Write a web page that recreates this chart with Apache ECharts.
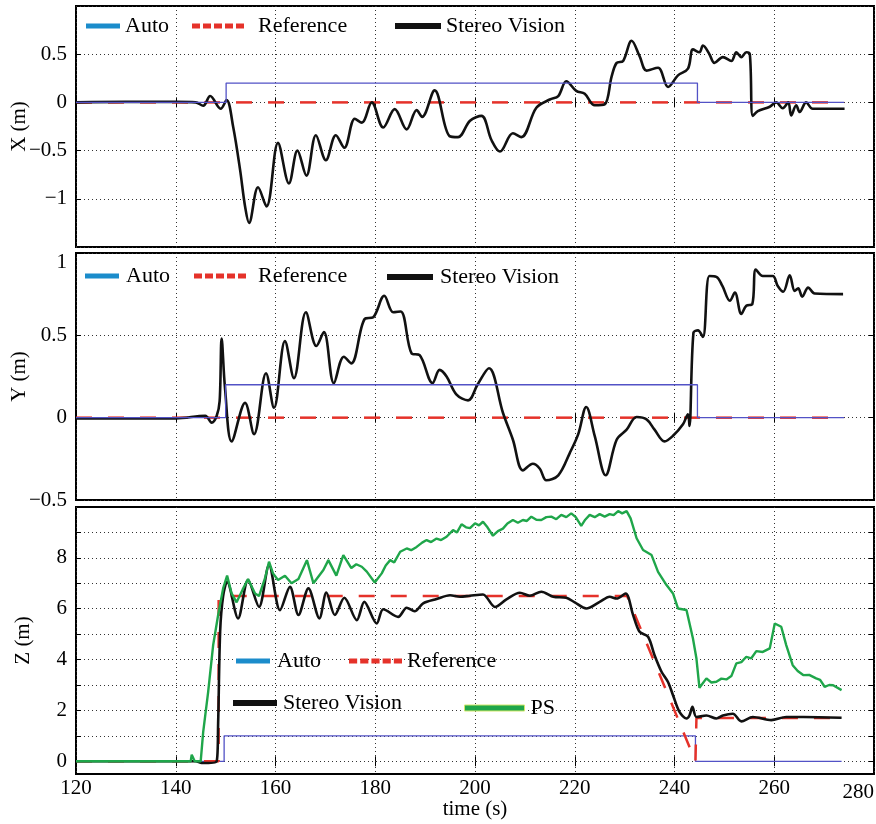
<!DOCTYPE html>
<html>
<head>
<meta charset="utf-8">
<title>X Y Z tracking</title>
<style>
  html, body { margin: 0; padding: 0; background: #fff; }
  #chart { width: 876px; height: 824px; }
</style>
</head>
<body>
<div id="chart"></div>
<script src="https://cdn.jsdelivr.net/npm/echarts@6/dist/echarts.min.js"></script>
<script>
// ---- data: [time (s), value (m)] ----
const xTicks = [120, 140, 160, 180, 200, 220, 240, 260, 280];
const zGridValues = [0, 1, 2, 3, 4, 5, 6, 7, 8, 9];
const zLabelValues = [0, 2, 4, 6, 8];

const autoX = [[120, 0], [150.1, 0], [150.1, 0.2], [244.6, 0.2], [244.6, 0], [274, 0]];
const refX = [[120, 0], [274, 0]];
const stereoX = [[120, 0], [130, 0.005], [140, 0.005], [144, 0], [145.5, -0.035], [146.9, 0.066], [149, -0.066],
  [150.2, 0.024], [151.5, -0.25], [152.9, -0.7], [153.9, -1.08], [154.7, -1.25], [156.5, -0.88], [158.2, -1.08],
  [160.5, -0.42], [162.7, -0.84], [164.4, -0.5], [166.2, -0.76], [168.1, -0.34], [170.1, -0.6], [172.1, -0.34],
  [173.8, -0.47], [175.9, -0.17], [177.3, -0.21], [179.3, 0], [181.6, -0.26], [183.9, -0.07], [186.3, -0.28],
  [188.3, -0.08], [189.4, -0.15], [191.9, 0.125], [194.9, -0.35], [196.6, -0.36], [199, -0.19], [201.3, -0.14],
  [203.3, -0.39], [205, -0.51], [207.6, -0.32], [209.3, -0.36], [212.3, -0.055], [215, 0.03], [216.7, 0.066],
  [218.3, 0.22], [220.3, 0.12], [222, 0.09], [224, -0.03], [226, -0.02], [227.4, 0.27], [228.4, 0.41],
  [229.7, 0.43], [231.4, 0.64], [233, 0.48], [234.4, 0.33], [236.7, 0.36], [238.7, 0.16], [240.7, 0.28],
  [242.7, 0.35], [243.7, 0.55], [245, 0.52], [245.7, 0.59], [247, 0.5], [248, 0.41], [249.7, 0.47],
  [251.4, 0.43], [252.4, 0.52], [253.4, 0.47], [254.4, 0.52], [255.1, 0.5], [255.7, -0.14], [256.7, -0.09],
  [259.1, -0.045], [260.4, 0], [261.7, -0.06], [262.8, 0], [263.4, -0.135], [264.4, -0.03], [265.1, -0.1],
  [266.4, 0], [267.7, -0.066], [274.1, -0.066]];

const autoY = [[120, 0], [150, 0], [150, 0.2], [244.6, 0.2], [244.6, 0], [274, 0]];
const refY = [[120, 0], [274, 0]];
const stereoY = [[120, -0.005], [140, -0.005], [145.9, 0.012], [147.2, -0.03], [148.2, 0.01], [148.8, 0.1],
  [149.2, 0.48], [149.9, 0.17], [151.2, -0.144], [153.9, 0.09], [155.7, -0.1], [158.1, 0.27], [159.7, 0.06],
  [161.9, 0.465], [163.7, 0.24], [166.1, 0.64], [168.2, 0.435], [169.7, 0.52], [171.7, 0.21], [173.7, 0.37],
  [175.2, 0.33], [177.9, 0.6], [179.6, 0.61], [181.8, 0.74], [183.6, 0.64], [185.1, 0.645], [187.3, 0.39],
  [188.9, 0.38], [191.5, 0.21], [192.9, 0.29], [194.3, 0.25], [196.3, 0.14], [198.6, 0.105], [200.5, 0.2],
  [202.8, 0.3], [205.6, 0.03], [207.6, -0.134], [209.6, -0.32], [211.6, -0.28], [213, -0.31], [214.3, -0.38],
  [216.7, -0.35], [219, -0.215], [220.7, -0.1], [222.3, 0.065], [224, -0.11], [226.2, -0.35], [228.4, -0.134],
  [230.4, -0.073], [232.4, 0.004], [234.4, -0.01], [236, -0.073], [238, -0.144], [239.7, -0.11], [241.7, -0.04],
  [242.7, 0.02], [243, -0.05], [243.8, 0.516], [244.7, 0.53], [245.7, 0.49], [247, 0.86], [248.4, 0.855],
  [249.6, 0.8], [251.1, 0.71], [252.1, 0.76], [253.4, 0.63], [254.4, 0.68], [255.6, 0.69], [256.3, 0.9],
  [257.7, 0.86], [259.7, 0.86], [260.7, 0.8], [261.8, 0.765], [263.1, 0.865], [264.1, 0.77], [264.8, 0.785],
  [265.6, 0.735], [266.8, 0.79], [268.1, 0.754], [273.8, 0.75]];

const autoZ = [[120, 0], [149.7, 0], [149.7, 1], [244.2, 1], [244.2, 0], [273.5, 0]];
const refZ = [[120, 0], [148.6, 0], [148.6, 6.5], [230.5, 6.5], [244.2, 0], [244.4, 1.7], [274, 1.7]];
const stereoZ = [[120, 0], [144, 0], [145.2, -0.07], [148.2, 0], [148.5, 1.5], [148.9, 5.1], [149.5, 6.5],
  [150.3, 7.06], [152.5, 5.62], [154.5, 7.13], [156.7, 6.07], [158.7, 7.72], [160.9, 5.94], [162.9, 6.86],
  [164.6, 5.75], [166.6, 6.8], [168.8, 5.62], [170.2, 6.64], [171.9, 5.75], [173.8, 6.43], [176.3, 5.55],
  [177.8, 6.27], [180.3, 5.42], [181.6, 5.98], [184.6, 5.68], [186.3, 6.04], [187.9, 5.9], [189.6, 6.21],
  [192.3, 6.38], [195, 6.53], [197, 6.47], [199, 6.51], [201.6, 6.56], [204, 6.07], [206.3, 6.37], [209, 6.63],
  [211, 6.51], [213.3, 6.67], [215.7, 6.47], [218.3, 6.43], [220, 6.25], [222.3, 6.01], [225, 6.27], [227, 6.47],
  [228.4, 6.4], [230.2, 6.6], [231.7, 5.75], [233, 5.09], [234.7, 4.9], [236, 4.17], [237.4, 3.52], [238.7, 3.12],
  [239.7, 2.6], [241, 1.94], [242.4, 1.68], [243, 1.8], [243.6, 2.14], [244.4, 1.74], [246.4, 1.8], [248.4, 1.68],
  [249.7, 1.8], [251.7, 1.87], [253.4, 1.57], [255.7, 1.74], [259.4, 1.62], [262.4, 1.74], [265.8, 1.74],
  [273.5, 1.71]];
const psZ = [[120, 0], [143, 0], [143.2, 0.26], [143.8, 0], [145, 0], [145.5, 1.15], [146.5, 2.73], [147.5, 4.57],
  [148.5, 5.75], [149.5, 6.8], [150.3, 7.3], [151.2, 6.6], [152.2, 6.25], [153.4, 6.75], [154.5, 7.17],
  [155.9, 6.6], [156.7, 6.5], [157.9, 7.2], [158.7, 7.85], [159.5, 7.39], [160.5, 7.13], [161.9, 7.3],
  [163.2, 7.0], [164.6, 7.17], [166.3, 7.91], [167.6, 7.0], [169.6, 7.52], [170.6, 7.91], [172.2, 7.3],
  [173.6, 8.11], [175.2, 7.6], [176.2, 7.75], [177.3, 7.65], [178.3, 7.46], [179.9, 7.03], [181.3, 7.39],
  [182.1, 7.7], [183, 7.91], [183.8, 7.82], [185, 8.24], [186.3, 8.37], [187.2, 8.3], [188.3, 8.43],
  [189.4, 8.6], [190.3, 8.7], [191.2, 8.62], [192.3, 8.76], [193.2, 8.7], [194.3, 8.83], [195.6, 9.09],
  [196.4, 9.0], [197.3, 9.32], [198.2, 9.2], [199, 9.17], [200, 9.36], [200.8, 9.28], [201.6, 9.42],
  [202.5, 9.2], [203.6, 8.87], [204.6, 9.05], [205.6, 9.15], [206.5, 9.35], [207.6, 9.49], [208.6, 9.38],
  [209.6, 9.49], [210.4, 9.45], [211.3, 9.62], [212.3, 9.5], [213.3, 9.49], [214.3, 9.6], [215.3, 9.62],
  [216.3, 9.52], [217.3, 9.69], [218.3, 9.6], [219.3, 9.75], [220.2, 9.6], [221.3, 9.26], [222.1, 9.5],
  [223, 9.69], [224, 9.6], [225, 9.72], [226, 9.62], [227, 9.72], [227.8, 9.68], [228.7, 9.84], [229.5, 9.75],
  [230.4, 9.84], [231.2, 9.55], [232.4, 8.77], [233.7, 8.31], [235.4, 8.11], [236.7, 7.45], [238.4, 6.93],
  [239.7, 6.6], [240.7, 6.01], [242.4, 5.95], [243.7, 4.83], [244.4, 4.04], [245, 2.89], [246.4, 3.26],
  [247.4, 3.1], [248.4, 3.13], [249.4, 3.25], [250.4, 3.22], [251.4, 3.35], [252.4, 3.85], [253.4, 3.9],
  [254.4, 4.11], [255.4, 4.05], [256.4, 4.33], [257.7, 4.3], [259.1, 4.44], [260.1, 5.42], [261.4, 5.29],
  [262.4, 4.57], [263.7, 3.78], [264.7, 3.55], [265.8, 3.39], [267, 3.4], [268.4, 3.26], [269.2, 3.2],
  [270.1, 2.93], [271, 3.0], [271.8, 2.99], [273.5, 2.8]];

// ---- styling ----
const FONT = 'Liberation Serif';
const C_AUTO = '#5252c6', C_AUTO_LEG = '#1b8ccb', C_REF = '#e5322a', C_STEREO = '#111111', C_PS = '#1fa64a';
const dotted = { color: '#333', width: 1, type: [1, 3] };
const minus = v => (v < 0 ? '\u2212' + Math.abs(v) : String(v));
const labelFont = { color: '#000', fontFamily: FONT, fontSize: 21 };

const grids = [
  { left: 76, right: 2, top: 6, height: 241 },
  { left: 76, right: 2, top: 253, height: 247 },
  { left: 76, right: 2, top: 507, height: 267 }
].map(g => Object.assign(g, {
  show: true, borderColor: '#000', borderWidth: 2, backgroundColor: 'transparent',
  containLabel: false, outerBoundsMode: 'none'
}));

function xAx(i, showLabels) {
  return {
    type: 'value', gridIndex: i, min: 120, max: 280, interval: 20,
    axisLine: { show: false },
    axisTick: { inside: true, length: 5, lineStyle: { color: '#000' } },
    splitLine: { show: true, lineStyle: dotted },
    axisLabel: Object.assign({
      show: showLabels, margin: 4, alignMaxLabel: 'right',
      formatter: v => (v === 280 ? '{low|280}' : String(v)),
      rich: { low: Object.assign({ padding: [4, 0, 0, 0] }, labelFont) }
    }, labelFont),
    name: showLabels ? 'time (s)' : '', nameLocation: 'middle', nameGap: 25, nameMoveOverlap: false,
    nameTextStyle: labelFont
  };
}
function xTop(i) {
  return {
    type: 'value', gridIndex: i, position: 'top', min: 120, max: 280, interval: 20,
    axisLine: { show: false }, axisLabel: { show: false }, splitLine: { show: false },
    axisTick: { inside: true, length: 5, lineStyle: { color: '#000' } }
  };
}
function yAx(i, name, range, extra) {
  return Object.assign({
    type: 'value', gridIndex: i, min: range[0], max: range[1], interval: 0.5,
    axisLine: { show: false },
    axisTick: { inside: true, length: 5, lineStyle: { color: '#000' } },
    splitLine: { show: true, lineStyle: dotted },
    axisLabel: Object.assign({ margin: 9, formatter: minus }, labelFont),
    name: name, nameLocation: 'middle', nameGap: 46, nameMoveOverlap: false,
    nameTextStyle: labelFont
  }, extra || {});
}
function yRight(i, range, extra) {
  return Object.assign({
    type: 'value', gridIndex: i, position: 'right', min: range[0], max: range[1], interval: 0.5,
    axisLine: { show: false }, axisLabel: { show: false }, splitLine: { show: false },
    axisTick: { inside: true, length: 5, lineStyle: { color: '#000' } }
  }, extra || {});
}

function line(name, data, i, color, width, opts) {
  return Object.assign({
    type: 'line', name: name, data: data, xAxisIndex: i, yAxisIndex: i,
    showSymbol: false, symbol: 'none', animation: false, silent: true,
    lineStyle: { color: color, width: width }, itemStyle: { color: color }
  }, opts || {});
}

const dashIcon = 'path://M0,0h8v5h-8z M11,0h8v5h-8z M22,0h8v5h-8z M33,0h8v5h-8z M44,0h8v5h-8z';
function leg(name, left, top, w, h, color, icon, padLeft, border) {
  return {
    left: left, top: top, orient: 'horizontal', selectedMode: false, padding: 0,
    itemWidth: w, itemHeight: h, symbolKeepAspect: false,
    data: [{
      name: name, icon: icon || 'rect',
      itemStyle: { color: color, borderWidth: border ? 1 : 0, borderColor: border || color }
    }],
    textStyle: { color: '#000', fontFamily: FONT, fontSize: 22, padding: [0, 0, 0, padLeft || 0] }
  };
}

const zTick = { inside: true, length: 5, lineStyle: { color: '#000' }, customValues: zGridValues };

const option = {
  backgroundColor: '#fff',
  animation: false,
  grid: grids,
  xAxis: [xAx(0, false), xAx(1, false), xAx(2, true), xTop(0), xTop(1), xTop(2)],
  yAxis: [
    yAx(0, 'X (m)', [-1.5, 1], {
      axisLabel: Object.assign({ margin: 9, formatter: minus, showMinLabel: false, showMaxLabel: false }, labelFont)
    }),
    yAx(1, 'Y (m)', [-0.5, 1], {
      axisLabel: Object.assign({
        margin: 9,
        formatter: v => (v === 1 ? '{top|1}' : minus(v)),
        rich: { top: Object.assign({ padding: [18, 0, 0, 0] }, labelFont) }
      }, labelFont)
    }),
    yAx(2, 'Z (m)', [-0.5, 10], {
      interval: null, nameGap: 42,
      axisTick: zTick,
      axisLabel: Object.assign({ margin: 9, customValues: zLabelValues }, labelFont)
    }),
    yRight(0, [-1.5, 1]),
    yRight(1, [-0.5, 1]),
    yRight(2, [-0.5, 10], { interval: null, axisTick: zTick })
  ],
  legend: [
    leg('Auto', 86, 15, 34, 5, C_AUTO_LEG),
    leg('Reference', 192, 15, 52, 5, C_REF, dashIcon, 9),
    leg('Stereo Vision', 395, 15, 46, 6, C_STEREO),
    leg('Auto', 85, 265, 34, 5, C_AUTO_LEG, null, 2),
    leg('Reference', 194, 265, 52, 5, C_REF, dashIcon, 7),
    leg('Stereo Vision', 387, 266, 46, 6, C_STEREO, null, 2),
    leg('Auto', 236, 650, 34, 5, C_AUTO_LEG, null, 2),
    leg('Reference', 349, 650, 53, 5, C_REF, dashIcon),
    leg('Stereo Vision', 233, 692, 44, 6, C_STEREO, null, 1),
    leg('PS', 464, 697, 60, 6, C_PS, null, 1, '#d2e86a')
  ],
  series: [
    line('Reference', refX, 0, C_REF, 2.5, { lineStyle: { color: C_REF, width: 2.5, type: [16, 16] } }),
    line('Stereo Vision', stereoX, 0, C_STEREO, 2.6, { smooth: 0.35 }),
    line('Auto', autoX, 0, C_AUTO, 1.3),

    line('Reference', refY, 1, C_REF, 2.5, { lineStyle: { color: C_REF, width: 2.5, type: [16, 16] } }),
    line('Stereo Vision', stereoY, 1, C_STEREO, 2.6, { smooth: 0.35 }),
    line('Auto', autoY, 1, C_AUTO, 1.3),

    line('Auto', autoZ, 2, C_AUTO, 1.3),
    line('Reference', refZ, 2, C_REF, 2.5, { lineStyle: { color: C_REF, width: 2.5, type: [16, 16] } }),
    line('Stereo Vision', stereoZ, 2, C_STEREO, 2.6, { smooth: 0.3 }),
    line('PS', psZ, 2, C_PS, 2.4)
  ]
};

const chart = echarts.init(document.getElementById('chart'), null, { renderer: 'canvas' });
chart.setOption(option);
</script>
</body>
</html>
